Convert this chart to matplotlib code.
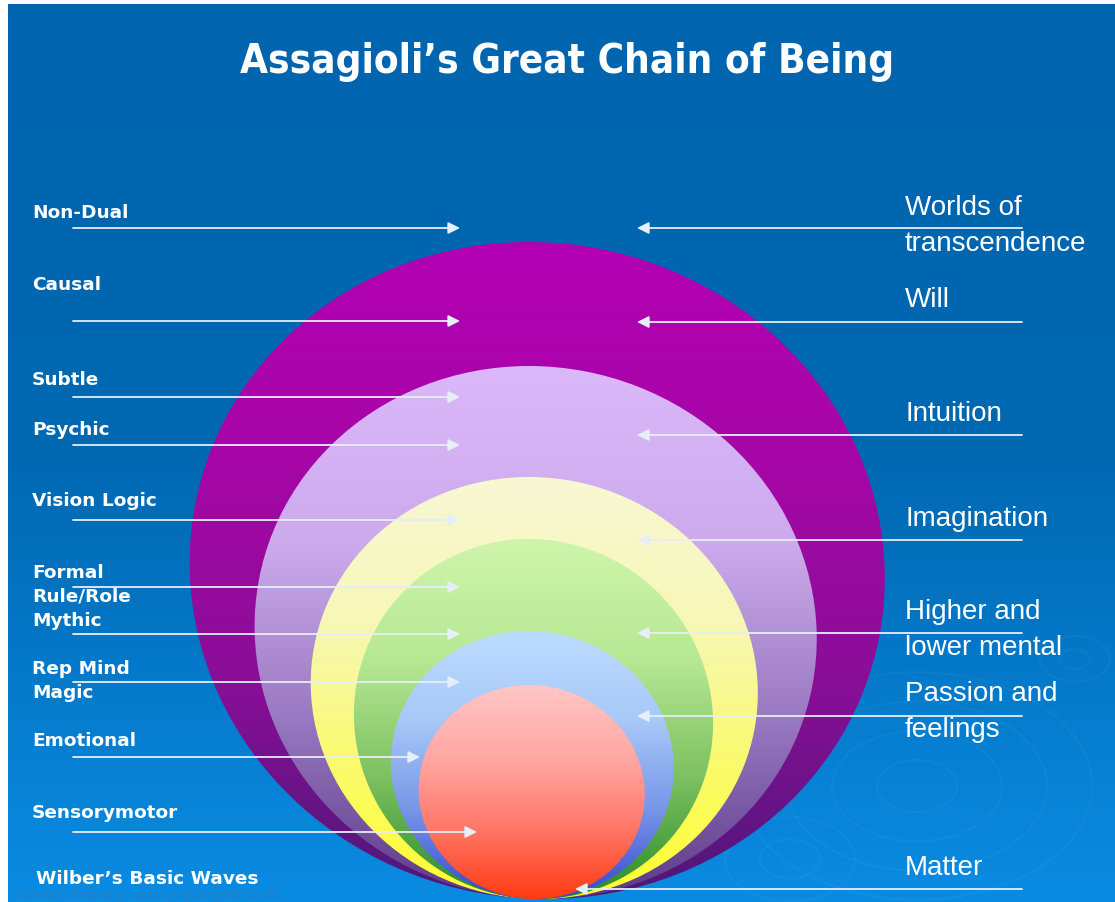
import numpy as np
import matplotlib
matplotlib.use('Agg')
from matplotlib import pyplot as plt
from matplotlib.patches import Ellipse
from matplotlib.colors import LinearSegmentedColormap
from matplotlib.transforms import Affine2D

# levels of the chain, outer to inner
level_names = ['Will', 'Intuition', 'Imagination', 'Mental', 'Feelings', 'Matter']
level_widths = [695, 562, 447, 359, 283, 226]
level_tops = [243, 367, 478, 540, 632, 686]
level_colors = [
    ['#B300B3', '#A606A6', '#8A0E98', '#4E1878'],
    ['#DAB8FA', '#CCAAEC', '#9878C0', '#5C3A88'],
    ['#F7F7D4', '#F7F7B8', '#FAFA70', '#FFFF30'],
    ['#CFF5AA', '#B6E894', '#7CC060', '#2A8A2A'],
    ['#BCDCFF', '#A8C8F8', '#7896E8', '#3448D0'],
    ['#FFC6C6', '#FFA8A4', '#FF7868', '#FF3A12'],
]

# Wilber's basic waves (left side)
left_labels = ['Non-Dual', 'Causal', 'Subtle', 'Psychic', 'Vision Logic', 'Formal',
               'Rule/Role', 'Mythic', 'Rep Mind', 'Magic', 'Emotional', 'Sensorymotor']
left_label_y = [213, 285, 380, 430, 501, 573, 597, 621, 669, 693, 741, 813]
left_arrow_y = [229, 322, 398, 446, 521, 588, 635, 683, 758, 833]
left_arrow_tip = [460, 460, 460, 460, 460, 460, 460, 460, 420, 477]

# Assagioli's levels (right side)
right_labels = ['Worlds of\ntranscendence', 'Will', 'Intuition', 'Imagination',
                'Higher and\nlower mental', 'Passion and\nfeelings', 'Matter']
right_label_y = [208, 300, 414, 519, 612, 694, 868]
right_arrow_y = [229, 323, 436, 541, 634, 717, 890]
right_arrow_tip = [637, 637, 637, 637, 637, 637, 575]

W, H = 1115, 903
fig = plt.figure(figsize=(W / 100, H / 100), dpi=100, facecolor='white')
ax = fig.add_axes([0, 0, 1, 1])

# blue background gradient
bg = LinearSegmentedColormap.from_list('bg', ['#0064AE', '#0068B2', '#0A8BE2'])
grad = np.linspace(0, 1, 256).reshape(-1, 1)
ax.imshow(grad, cmap=bg, extent=(8, W, H, 5), aspect='auto', zorder=0)

# faint ripples
for cx, cy, radii in [(917, 787, [40, 85, 130, 175]), (1075, 660, [15, 35]),
                      (790, 860, [30, 65])]:
    for r in radii:
        ax.add_patch(Ellipse((cx, cy), 2 * r, 1.3 * r, fill=False, ec='white',
                             lw=1.5, alpha=0.035, zorder=1))

bottom = 900
cx = 529
lean = 0.025  # bottoms drift a little to the right
for i, name in enumerate(level_names):
    w = level_widths[i]
    top = level_tops[i]
    h = bottom - top
    cy = top + h / 2
    shear = Affine2D().translate(-cx, -top).skew(np.arctan(lean), 0).translate(cx, top)
    e = Ellipse((cx, cy), w, h, fc='none', ec='none', zorder=2 + i)
    e.set_transform(shear + ax.transData)
    ax.add_patch(e)
    cm = LinearSegmentedColormap.from_list(name, level_colors[i])
    im = ax.imshow(grad, cmap=cm, extent=(cx - w / 2, cx + w / 2 + lean * h + 2, bottom, top),
                   aspect='auto', zorder=2 + i)
    im.set_clip_path(e)

arrow_kw = dict(arrowstyle='-|>,head_length=0.7,head_width=0.35', color='#E6EEF8',
                lw=1.3, shrinkA=0, shrinkB=0)
for y, tip in zip(left_arrow_y, left_arrow_tip):
    ax.annotate('', xy=(tip, y), xytext=(73, y), arrowprops=arrow_kw, zorder=20)
for y, tip in zip(right_arrow_y, right_arrow_tip):
    ax.annotate('', xy=(tip, y), xytext=(1022, y), arrowprops=arrow_kw, zorder=20)

for lab, y in zip(left_labels, left_label_y):
    ax.text(32, y, lab, color='white', fontsize=13.3, fontweight='bold',
            family='DejaVu Sans', va='center', ha='left', zorder=21)

for lab, y in zip(right_labels, right_label_y):
    for k, line in enumerate(lab.split('\n')):
        ax.text(905, y + k * 36, line, color='white', fontsize=20,
                family='Liberation Sans', va='center', ha='left', zorder=21)

ax.text(20, 896, 'Kanvas Training: www.psykosyntese.dk', color='#3A78B0', alpha=0.6,
        fontsize=9.5, va='center', ha='left', zorder=19)
ax.text(36, 879, 'Wilber\u2019s Basic Waves', color='white', fontsize=13.3,
        fontweight='bold', family='DejaVu Sans', va='center', ha='left', zorder=21)

ax.text(567, 62, 'Assagioli\u2019s Great Chain of Being', color='white', fontsize=29,
        fontweight='bold', family='DejaVu Sans', fontstretch='condensed',
        va='center', ha='center', zorder=21)

ax.set_xlim(0, W)
ax.set_ylim(H, 0)
ax.axis('off')
fig.savefig('out.png', dpi=100, facecolor='white')
